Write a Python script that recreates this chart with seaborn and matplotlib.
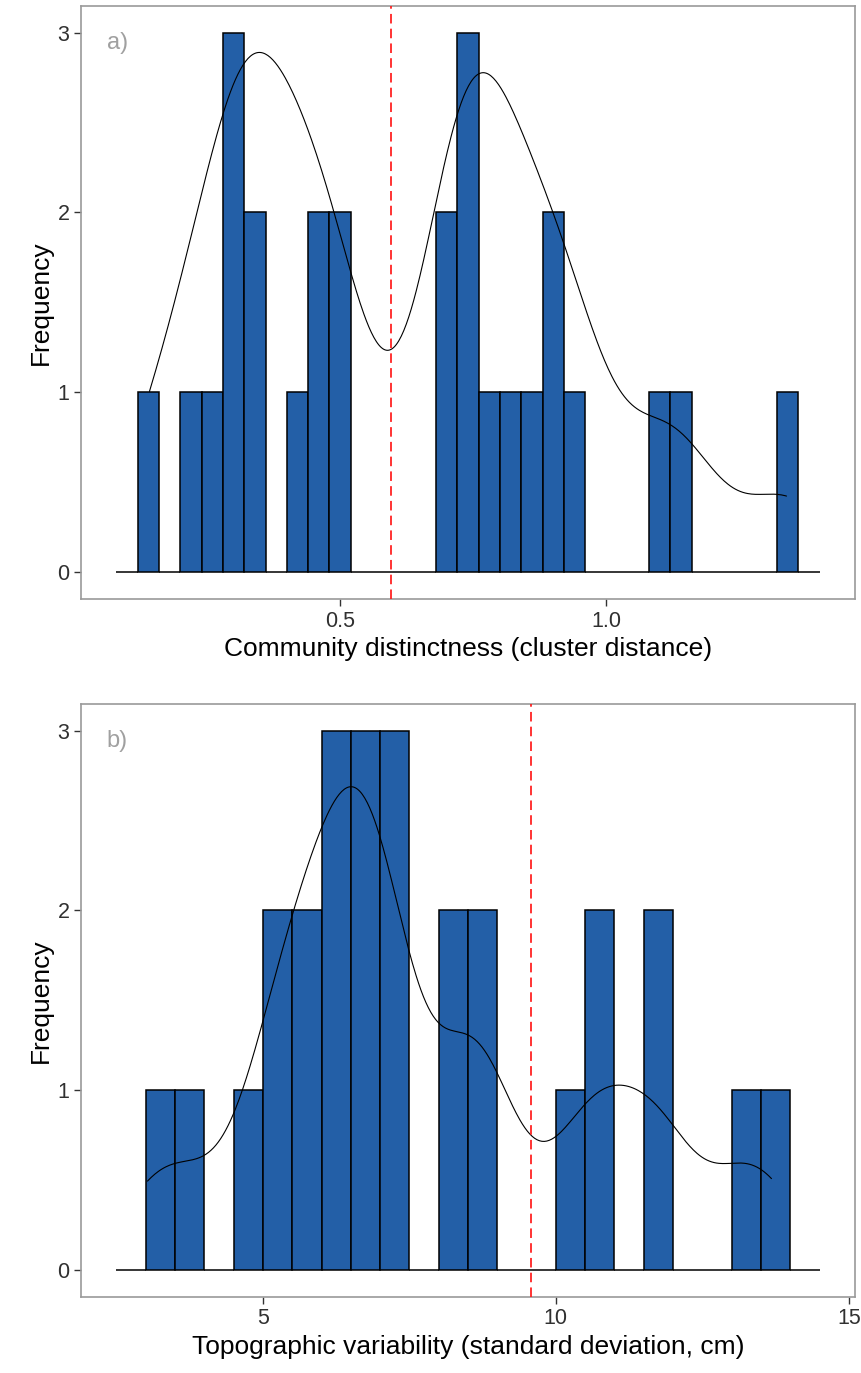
import numpy as np
import pandas as pd
import matplotlib
matplotlib.use("Agg")
import matplotlib.pyplot as plt
import seaborn as sns

# ---- data ---------------------------------------------------------------
# a) community distinctness (cluster distance), one value per site
distinctness = [0.142, 0.205, 0.245, 0.31, 0.315, 0.318, 0.34, 0.35, 0.41,
                0.445, 0.45, 0.50, 0.518, 0.69, 0.70, 0.73, 0.745, 0.755,
                0.78, 0.815, 0.85, 0.905, 0.918, 0.955, 1.09, 1.15, 1.338]
distinctness_cut = 0.595

# b) topographic variability (standard deviation, cm), one value per site
topo_sd = [3.03, 3.75, 4.75, 5.2, 5.4, 5.6, 5.85, 6.1, 6.3, 6.45, 6.55,
           6.7, 6.9, 7.05, 7.2, 7.4, 8.25, 8.45, 8.8, 8.95, 10.1, 10.75,
           10.9, 11.7, 11.85, 13.01, 13.68]
topo_cut = 9.58

x_titles = ["Community distinctness (cluster distance)",
            "Topographic variability (standard deviation, cm)"]
panel_tags = ["a)", "b)"]
y_title = "Frequency"
y_ticks = [0, 1, 2, 3]
x_ticks_a = [0.5, 1.0]
x_tick_labels_a = ["0.5", "1.0"]
x_ticks_b = [5, 10, 15]
x_tick_labels_b = ["5", "10", "15"]

# ---- style --------------------------------------------------------------
sns.set_style("white")
plt.rcParams["font.family"] = ["Liberation Sans", "DejaVu Sans"]

BAR_FILL = "#235FA7"
FRAME = "#9a9a9a"
TICK_TXT = "#303030"


def kde_curve(values, bw, scale, n_grid=512):
    """Gaussian kernel density over the data range, scaled to the count axis."""
    v = np.asarray(values, dtype=float)
    grid = np.linspace(v.min(), v.max(), n_grid)
    z = (grid[:, None] - v[None, :]) / bw
    dens = np.exp(-0.5 * z ** 2).sum(axis=1) / (len(v) * bw * np.sqrt(2 * np.pi))
    return pd.DataFrame({"x": grid, "y": dens * scale})


def panel(ax, values, edges, bw, scale, cut, xlim, xticks, xticklabels,
          xtitle, tag):
    df = pd.DataFrame({"v": values})
    sns.histplot(data=df, x="v", bins=edges, stat="count",
                 color=BAR_FILL, alpha=1.0, edgecolor="black",
                 linewidth=1.1, ax=ax)
    curve = kde_curve(values, bw, scale)
    sns.lineplot(data=curve, x="x", y="y", color="black", linewidth=0.8,
                 ax=ax, zorder=4)
    ax.axvline(cut, color="#FF1A1A", linewidth=1.25, linestyle=(0, (5.5, 3)),
               zorder=5)

    ax.set_xlim(*xlim)
    ax.set_ylim(-0.15, 3.15)
    ax.set_yticks(y_ticks)
    ax.set_yticklabels([str(t) for t in y_ticks])
    ax.set_xticks(xticks)
    ax.set_xticklabels(xticklabels)
    ax.tick_params(axis="both", which="major", direction="out", length=5,
                   width=1.0, color="#333333", labelsize=15.5,
                   labelcolor=TICK_TXT, pad=3.5, bottom=True, left=True)
    ax.set_xlabel(xtitle, fontsize=19, color="black", labelpad=4)
    ax.set_ylabel(y_title, fontsize=19, color="black", labelpad=3)
    for s in ax.spines.values():
        s.set_color(FRAME)
        s.set_linewidth(1.2)
    ax.text(0.033, 0.938, tag, transform=ax.transAxes, ha="left",
            va="center", fontsize=17, color="#a0a0a0")


fig = plt.figure(figsize=(8.62, 13.73), dpi=100)
ax_a = fig.add_axes([0.0943, 0.5639, 0.8972, 0.4319])
ax_b = fig.add_axes([0.0943, 0.0556, 0.8972, 0.4317])

panel(ax_a, distinctness, np.linspace(0.08, 1.40, 34), bw=0.08,
      scale=2.13, cut=distinctness_cut, xlim=(0.014, 1.466),
      xticks=x_ticks_a, xticklabels=x_tick_labels_a, xtitle=x_titles[0],
      tag=panel_tags[0])

panel(ax_b, topo_sd, np.linspace(2.5, 14.5, 25), bw=0.62,
      scale=len(topo_sd) * 0.5, cut=topo_cut, xlim=(1.9, 15.1),
      xticks=x_ticks_b, xticklabels=x_tick_labels_b, xtitle=x_titles[1],
      tag=panel_tags[1])

fig.savefig("out.png", dpi=100, facecolor="white")
